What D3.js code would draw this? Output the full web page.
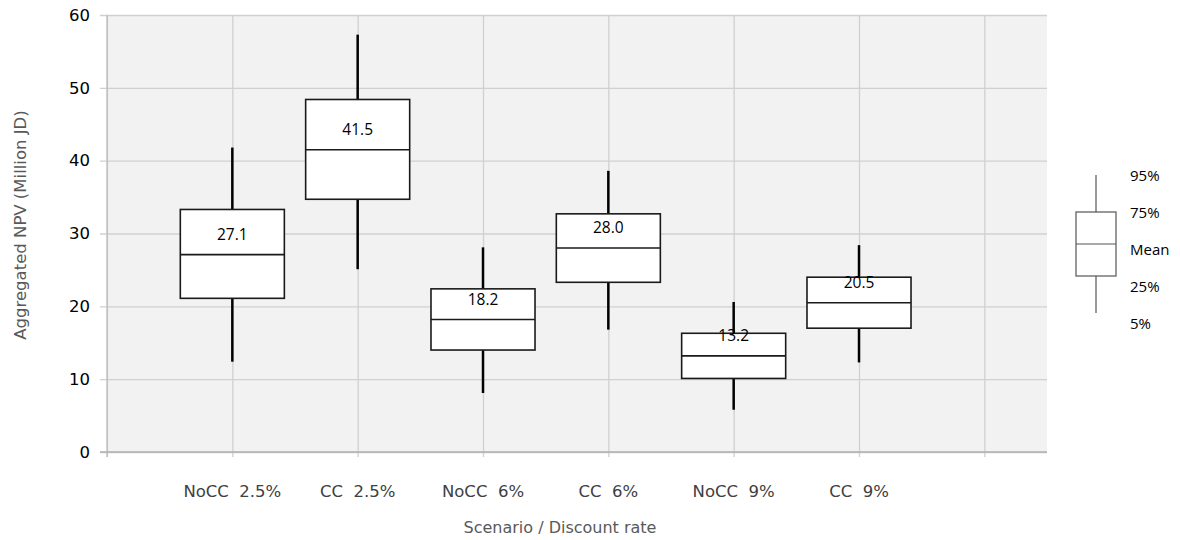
<!DOCTYPE html>
<html>
<head>
<meta charset="utf-8">
<script src="https://cdn.jsdelivr.net/npm/d3@7"></script>
<style>
  html, body { margin: 0; padding: 0; background: #ffffff; }
  svg { display: block; }
</style>
</head>
<body>
<svg id="chart" width="1180" height="540"></svg>
<script>
// Scenario / discount-rate combinations
const categories = ["NoCC  2.5%", "CC  2.5%", "NoCC  6%", "CC  6%", "NoCC  9%", "CC  9%"];
// Percentile statistics of aggregated NPV (Million JD)
const p5   = [12.4, 25.1,  8.1, 16.8,  5.8, 12.3];
const p25  = [21.1, 34.7, 14.0, 23.3, 10.1, 17.0];
const mean = [27.1, 41.5, 18.2, 28.0, 13.2, 20.5];
const p75  = [33.3, 48.4, 22.4, 32.7, 16.3, 24.0];
const p95  = [41.8, 57.3, 28.1, 38.6, 20.6, 28.4];
const yTicks = [0, 10, 20, 30, 40, 50, 60];
const legendLabels = ["95%", "75%", "Mean", "25%", "5%"];

const svg = d3.select("#chart");
const plot = { left: 107, right: 1047, top: 15, bottom: 452 };

// category slots sit at 1..n on a linear axis, with a spare slot on the right
const x = d3.scaleLinear().domain([0, 7.5]).range([plot.left, plot.right]);
const y = d3.scaleLinear().domain([0, 60]).range([plot.bottom, plot.top]);
const step = x(1) - x(0);
const boxW = step * 0.83;

// plot background
svg.append("rect")
  .attr("x", plot.left).attr("y", plot.top)
  .attr("width", plot.right - plot.left).attr("height", plot.bottom - plot.top)
  .attr("fill", "#f2f2f2");

// horizontal gridlines + y axis
const yAxis = d3.axisLeft(y).tickValues(yTicks).tickSize(plot.right - plot.left + 7).tickPadding(10).tickFormat(d3.format("d"));
const gy = svg.append("g").attr("transform", `translate(${plot.right},0)`).call(yAxis);
gy.select(".domain").remove();
gy.selectAll(".tick line").attr("stroke", "#d0d0d0").attr("stroke-width", 1.3);
gy.selectAll(".tick text")
  .attr("font-family", "DejaVu Sans, Verdana, sans-serif").attr("font-size", 16.5)
  .attr("fill", "#000");

// vertical gridlines (one per slot) + x axis
const xAxis = d3.axisBottom(x).tickValues(d3.range(0, 8)).tickSize(-(plot.bottom - plot.top)).tickFormat("");
const gx = svg.append("g").attr("transform", `translate(0,${plot.bottom})`).call(xAxis);
gx.select(".domain").remove();
gx.selectAll(".tick line").attr("stroke", "#d0d0d0").attr("stroke-width", 1.3).attr("y2", 5)
  .attr("y1", -(plot.bottom - plot.top));

// axis lines
svg.append("line")
  .attr("x1", plot.left).attr("x2", plot.left).attr("y1", plot.top).attr("y2", plot.bottom + 5)
  .attr("stroke", "#bdbdbd").attr("stroke-width", 1.3);
svg.append("line")
  .attr("x1", plot.left - 7).attr("x2", plot.right).attr("y1", plot.bottom).attr("y2", plot.bottom)
  .attr("stroke", "#b0b0b0").attr("stroke-width", 1.5);

// category labels
svg.append("g").selectAll("text").data(categories).join("text")
  .attr("x", (d, i) => x(i + 1)).attr("y", 492)
  .attr("text-anchor", "middle").attr("dominant-baseline", "middle")
  .attr("font-family", "DejaVu Sans, Verdana, sans-serif").attr("font-size", 16.5)
  .attr("fill", "#404040").style("white-space", "pre")
  .text(d => d);

// axis titles
svg.append("text")
  .attr("x", 560).attr("y", 528)
  .attr("text-anchor", "middle").attr("dominant-baseline", "middle")
  .attr("font-family", "DejaVu Sans, Verdana, sans-serif").attr("font-size", 16)
  .attr("fill", "#595959")
  .text("Scenario / Discount rate");
svg.append("text")
  .attr("transform", "translate(21,225) rotate(-90)")
  .attr("text-anchor", "middle").attr("dominant-baseline", "middle")
  .attr("font-family", "DejaVu Sans, Verdana, sans-serif").attr("font-size", 16.5)
  .attr("fill", "#595959")
  .text("Aggregated NPV (Million JD)");

// box plots
const boxes = svg.append("g").selectAll("g").data(categories).join("g");
boxes.append("line")
  .attr("x1", (d, i) => x(i + 1)).attr("x2", (d, i) => x(i + 1))
  .attr("y1", (d, i) => y(p95[i])).attr("y2", (d, i) => y(p75[i]))
  .attr("stroke", "#000").attr("stroke-width", 2.5);
boxes.append("line")
  .attr("x1", (d, i) => x(i + 1)).attr("x2", (d, i) => x(i + 1))
  .attr("y1", (d, i) => y(p25[i])).attr("y2", (d, i) => y(p5[i]))
  .attr("stroke", "#000").attr("stroke-width", 2.5);
boxes.append("rect")
  .attr("x", (d, i) => x(i + 1) - boxW / 2).attr("width", boxW)
  .attr("y", (d, i) => y(p75[i])).attr("height", (d, i) => y(p25[i]) - y(p75[i]))
  .attr("fill", "#fff").attr("stroke", "#1a1a1a").attr("stroke-width", 1.6);
boxes.append("line")
  .attr("x1", (d, i) => x(i + 1) - boxW / 2).attr("x2", (d, i) => x(i + 1) + boxW / 2)
  .attr("y1", (d, i) => y(mean[i])).attr("y2", (d, i) => y(mean[i]))
  .attr("stroke", "#1a1a1a").attr("stroke-width", 1.6);
boxes.append("text")
  .attr("x", (d, i) => x(i + 1)).attr("y", (d, i) => y(mean[i]) - 19)
  .attr("text-anchor", "middle").attr("dominant-baseline", "middle")
  .attr("font-family", "Open Sans, Noto Sans, sans-serif").attr("font-size", 15.5)
  .attr("fill", "#000")
  .text((d, i) => d3.format(".1f")(mean[i]));

// legend: a schematic box with its percentile labels
const lg = svg.append("g");
const lx = 1096, lw = 40;
const ly = { p95: 175, p75: 212, mean: 244, p25: 276, p5: 313 };
lg.append("line").attr("x1", lx).attr("x2", lx).attr("y1", ly.p95).attr("y2", ly.p5)
  .attr("stroke", "#555").attr("stroke-width", 1.2);
lg.append("rect").attr("x", lx - lw / 2).attr("y", ly.p75).attr("width", lw).attr("height", ly.p25 - ly.p75)
  .attr("fill", "#fff").attr("stroke", "#555").attr("stroke-width", 1.2);
lg.append("line").attr("x1", lx - lw / 2).attr("x2", lx + lw / 2).attr("y1", ly.mean).attr("y2", ly.mean)
  .attr("stroke", "#555").attr("stroke-width", 1.2);
const legendY = [177, 214, 251, 288, 325];
lg.selectAll("text").data(legendLabels).join("text")
  .attr("x", 1130).attr("y", (d, i) => legendY[i])
  .attr("dominant-baseline", "middle")
  .attr("font-family", "Open Sans, Noto Sans, sans-serif").attr("font-size", 15)
  .attr("fill", "#000")
  .text(d => d);
</script>
</body>
</html>
